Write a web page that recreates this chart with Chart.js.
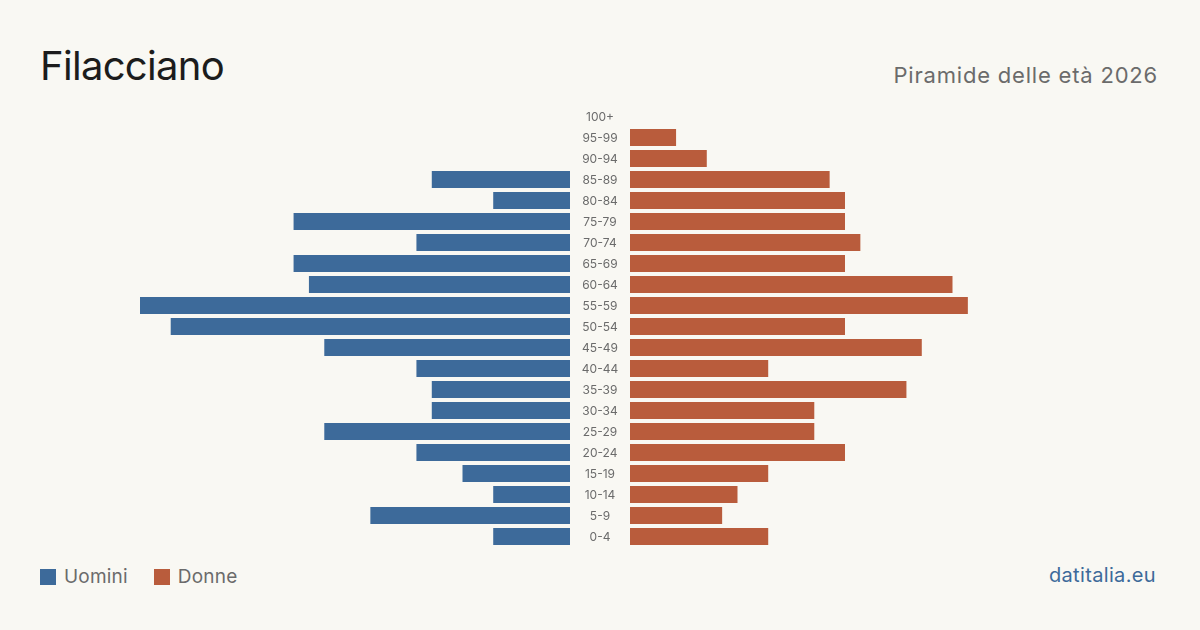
<!DOCTYPE html>
<html>
<head>
<meta charset="utf-8">
<script src="https://cdn.jsdelivr.net/npm/chart.js@4.4.1/dist/chart.umd.min.js"></script>
<style>
  html, body { margin: 0; padding: 0; }
  body {
    width: 1200px; height: 630px; position: relative; overflow: hidden;
    background: #f9f8f3; font-family: Inter, "Noto Sans", sans-serif;
  }
  #title { position: absolute; left: 40px; top: 41px; font-size: 40px; color: #1c1c1c; letter-spacing: -0.7px; }
  #subtitle { position: absolute; right: 42px; top: 62px; font-size: 22px; color: #6b6b6b; letter-spacing: 0.8px; }
  #left { position: absolute; left: 140px; top: 106px; }
  #right { position: absolute; left: 570px; top: 106px; }
  #legend { position: absolute; left: 40px; top: 565px; font-size: 19px; color: #6b6b6b; display: flex; align-items: center; }
  #legend .sw { display: inline-block; width: 16px; height: 16px; margin-right: 8px; }
  #legend .item { display: flex; align-items: center; margin-right: 26px; letter-spacing: 0.2px; }
  #source { position: absolute; right: 44px; top: 563px; font-size: 20px; color: #3d6a9a; letter-spacing: 0.35px; }
</style>
</head>
<body>
<div id="title">Filacciano</div>
<div id="subtitle">Piramide delle età 2026</div>
<canvas id="left" width="430" height="441"></canvas>
<canvas id="right" width="490" height="441"></canvas>
<div id="legend"></div>
<div id="source">datitalia.eu</div>
<script>
const ageGroups = ['100+', '95-99', '90-94', '85-89', '80-84', '75-79', '70-74', '65-69', '60-64', '55-59',
  '50-54', '45-49', '40-44', '35-39', '30-34', '25-29', '20-24', '15-19', '10-14', '5-9', '0-4'];
const men   = [0, 0, 0, 9, 5, 18, 10, 18, 17, 28, 26, 16, 10, 9, 9, 16, 10, 7, 5, 13, 5];
const women = [0, 3, 5, 13, 14, 14, 15, 14, 21, 22, 14, 19, 9, 18, 12, 12, 14, 9, 7, 6, 9];
const seriesNames = ['Uomini', 'Donne'];
const colors = ['#3d6a9a', '#b95c3c'];

const axisMax = Math.max(...men, ...women);

function baseOptions(reverse, padLeft) {
  return {
    responsive: false,
    animation: false,
    indexAxis: 'y',
    layout: { padding: { left: padLeft, right: 0, top: 0, bottom: 0 } },
    plugins: { legend: { display: false }, tooltip: { enabled: false } },
    scales: {
      x: { display: false, min: 0, max: axisMax, reverse: reverse },
      y: { display: false }
    }
  };
}

// age labels in the middle gap, placed with the y scale of the right chart
const ageLabels = {
  id: 'ageLabels',
  afterDraw(chart) {
    const ctx = chart.ctx;
    const y = chart.scales.y;
    ctx.save();
    ctx.font = '12px Inter, "Noto Sans", sans-serif';
    ctx.fillStyle = '#6b6b6b';
    ctx.textAlign = 'center';
    ctx.textBaseline = 'middle';
    ageGroups.forEach((label, i) => {
      ctx.fillText(label, chart.chartArea.left - 30, y.getPixelForValue(i) + 1);
    });
    ctx.restore();
  }
};

new Chart(document.getElementById('left'), {
  type: 'bar',
  data: {
    labels: ageGroups,
    datasets: [{
      label: seriesNames[0],
      data: men,
      backgroundColor: colors[0],
      barPercentage: 0.81,
      categoryPercentage: 1
    }]
  },
  options: baseOptions(true, 0)
});

new Chart(document.getElementById('right'), {
  type: 'bar',
  data: {
    labels: ageGroups,
    datasets: [{
      label: seriesNames[1],
      data: women,
      backgroundColor: colors[1],
      barPercentage: 0.81,
      categoryPercentage: 1
    }]
  },
  options: baseOptions(false, 60),
  plugins: [ageLabels]
});

// Legend
const legendEl = document.getElementById('legend');
seriesNames.forEach((name, i) => {
  const item = document.createElement('span');
  item.className = 'item';
  item.innerHTML = `<span class="sw" style="background:${colors[i]}"></span>${name}`;
  legendEl.appendChild(item);
});
</script>
</body>
</html>
